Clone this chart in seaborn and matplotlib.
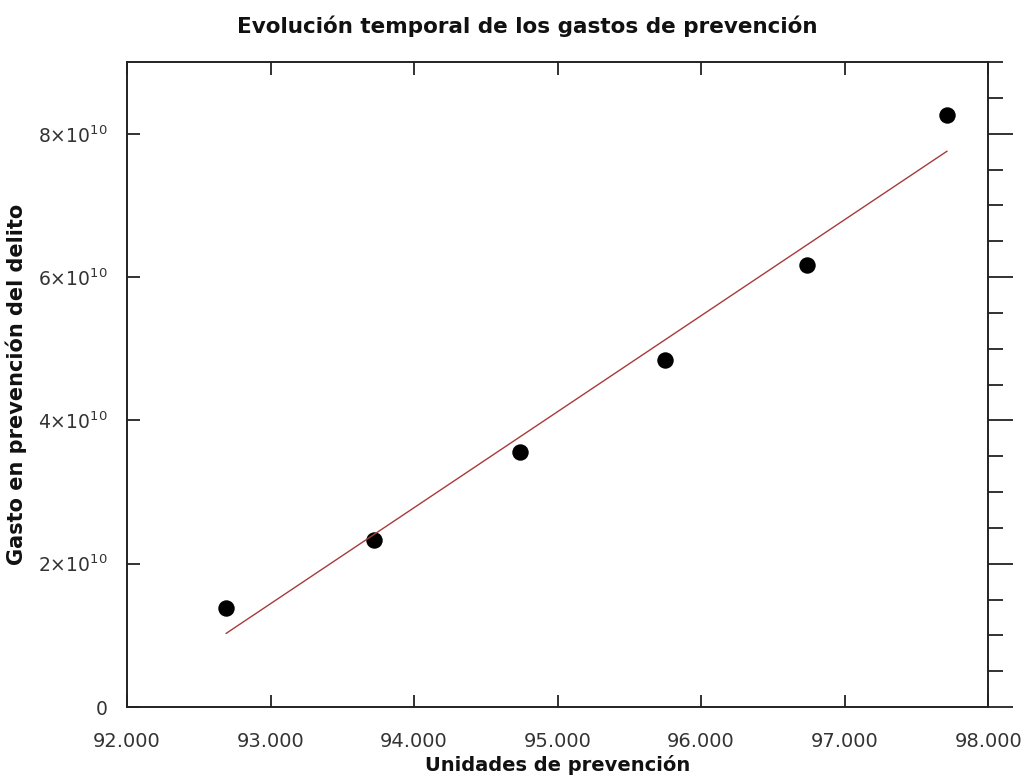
import matplotlib
matplotlib.use("Agg")
import matplotlib.pyplot as plt
import matplotlib.ticker as mticker
import seaborn as sns

# values
unidades = [92690, 93721, 94739, 95749, 96739, 97714]
gasto = [1.38e10, 2.33e10, 3.56e10, 4.84e10, 6.17e10, 8.26e10]

title = "Evolución temporal de los gastos de prevención"
xlabel = "Unidades de prevención"
ylabel = "Gasto en prevención del delito"

sns.set_style("white")
plt.rcParams["font.family"] = ["DejaVu Sans"]

fig = plt.figure(figsize=(10.24, 7.83), dpi=100)
ax = fig.add_axes([0.124, 0.097, 0.841, 0.8237])

sns.regplot(x=unidades, y=gasto, ax=ax, ci=None, truncate=True,
            scatter_kws={"s": 140, "color": "black", "alpha": 1, "linewidths": 0},
            line_kws={"color": "#a83a3a", "linewidth": 1.0})

ax.set_xlim(92000, 98000)
ax.set_ylim(0, 9e10)
ax.xaxis.set_major_locator(mticker.MultipleLocator(1000))
ax.yaxis.set_major_locator(mticker.MultipleLocator(2e10))


def fmt_x(v, pos):
    return f"{v:,.0f}".replace(",", ".")


def fmt_y(v, pos):
    if v == 0:
        return "0"
    return f"{v / 1e10:.0f}×10$^{{10}}$"


ax.xaxis.set_major_formatter(mticker.FuncFormatter(fmt_x))
ax.yaxis.set_major_formatter(mticker.FuncFormatter(fmt_y))

for s in ax.spines.values():
    s.set_color("#222222")
    s.set_linewidth(1.4)

ax.tick_params(axis="x", which="major", direction="in", top=True, bottom=True,
               length=9, width=1.3, color="#222222", labelsize=14,
               labelcolor="#333333", pad=18)
ax.tick_params(axis="y", which="major", direction="in", left=True, right=False,
               length=9, width=1.3, color="#222222", labelsize=13.5,
               labelcolor="#333333", pad=14)

# right axis: outward ticks, major + minor, no labels
sec = ax.secondary_yaxis("right")
sec.yaxis.set_major_locator(mticker.MultipleLocator(2e10))
sec.yaxis.set_minor_locator(mticker.MultipleLocator(0.5e10))
sec.yaxis.set_major_formatter(mticker.NullFormatter())
sec.tick_params(which="major", direction="out", length=18, width=1.3, color="#222222")
sec.tick_params(which="minor", direction="out", length=11, width=1.3, color="#222222")
sec.spines["right"].set_visible(False)

ax.set_xlabel(xlabel, fontsize=14, fontweight="bold", labelpad=3, color="#111111")
ax.set_ylabel(ylabel, fontsize=15, fontweight="bold", labelpad=8, color="#111111")
fig.suptitle(title, x=0.515, y=0.98, fontsize=15.5, fontweight="bold", color="#111111")

fig.savefig("out.png", dpi=100)
